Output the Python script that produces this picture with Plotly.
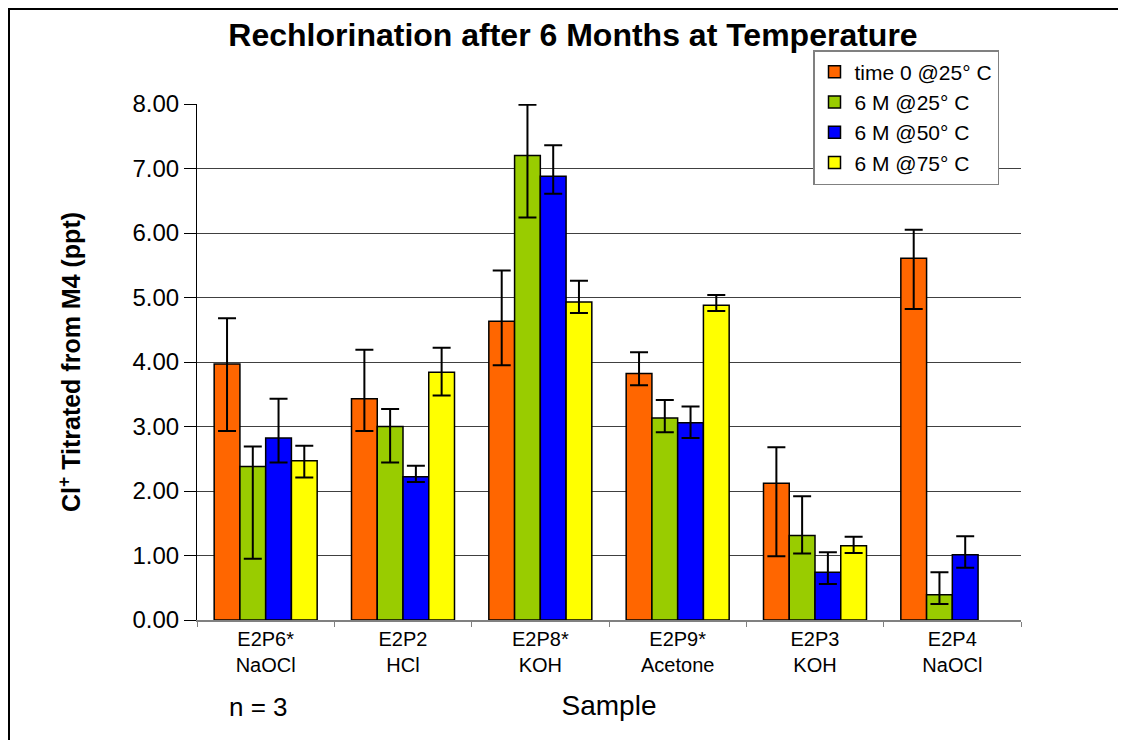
import plotly.graph_objects as go

categories = ["E2P6*<br>NaOCl", "E2P2<br>HCl", "E2P8*<br>KOH", "E2P9*<br>Acetone", "E2P3<br>KOH", "E2P4<br>NaOCl"]
series_names = ["time 0 @25° C", "6 M @25° C", "6 M @50° C", "6 M @75° C"]
series_colors = ["#FF6600", "#99CC00", "#0000FF", "#FFFF00"]

time0_25 = [3.97, 3.43, 4.63, 3.82, 2.12, 5.61]
m6_25 = [2.38, 3.00, 7.20, 3.13, 1.31, 0.39]
m6_50 = [2.82, 2.22, 6.88, 3.06, 0.74, 1.01]
m6_75 = [2.47, 3.84, 4.93, 4.88, 1.15, None]

# error bar upper / lower bounds
time0_25_hi = [4.68, 4.19, 5.42, 4.15, 2.68, 6.05]
time0_25_lo = [2.93, 2.93, 3.95, 3.64, 0.99, 4.82]
m6_25_hi = [2.69, 3.27, 7.99, 3.41, 1.92, 0.74]
m6_25_lo = [0.95, 2.44, 6.24, 2.91, 1.03, 0.25]
m6_50_hi = [3.43, 2.39, 7.36, 3.31, 1.05, 1.30]
m6_50_lo = [2.44, 2.14, 6.61, 2.82, 0.56, 0.81]
m6_75_hi = [2.70, 4.22, 5.26, 5.04, 1.29, None]
m6_75_lo = [2.21, 3.48, 4.76, 4.79, 1.04, None]

y_ticks = [0, 1, 2, 3, 4, 5, 6, 7, 8]

series = [
    (time0_25, time0_25_hi, time0_25_lo),
    (m6_25, m6_25_hi, m6_25_lo),
    (m6_50, m6_50_hi, m6_50_lo),
    (m6_75, m6_75_hi, m6_75_lo),
]

fig = go.Figure()
for name, color, (vals, hi, lo) in zip(series_names, series_colors, series):
    plus = [None if v is None else h - v for v, h in zip(vals, hi)]
    minus = [None if v is None else v - l for v, l in zip(vals, lo)]
    fig.add_trace(go.Bar(
        name=name, x=categories, y=vals,
        marker=dict(color=color, line=dict(color="black", width=1.5)),
        error_y=dict(type="data", symmetric=False, array=plus, arrayminus=minus,
                     color="black", thickness=2, width=9),
    ))

# page body has an 8px margin: work in screen pixels, convert to figure pixels
OFF = 8
W, H = 1126 - OFF, 740 - OFF
SL, SR, ST, SB = 197, 1021, 104, 620  # plot area on screen
L, T = SL - OFF, ST - OFF
R = W - (SR - OFF)
B = H - (SB - OFF)
pw, ph = SR - SL, SB - ST

def px_x(x):
    return (x - SL) / pw

def px_y(y):
    return (SB - y) / ph

fig.update_layout(
    width=W, height=H,
    margin=dict(l=L, r=R, t=T, b=B),
    paper_bgcolor="white", plot_bgcolor="white",
    barmode="group", bargap=0.25, bargroupgap=0,
    font=dict(family="Liberation Sans, Arial, sans-serif", color="black"),
    title=dict(text="<b>Rechlorination after 6 Months at Temperature</b>",
               font=dict(size=32, family="Liberation Sans, Arial, sans-serif", color="black"),
               x=px_x(573), xref="paper", xanchor="center",
               y=1 - (35 - OFF) / H, yref="container", yanchor="middle"),
    legend=dict(x=px_x(813), y=px_y(50), xanchor="left", yanchor="top",
                bgcolor="white", bordercolor="#808080", borderwidth=1.5,
                font=dict(size=21), traceorder="normal",
                itemwidth=30, tracegroupgap=0),
    showlegend=True,
)

fig.update_yaxes(
    range=[0, 8], tickvals=y_ticks, tickformat=".2f",
    showgrid=True, gridcolor="#404040", gridwidth=1,
    showline=True, linecolor="black", linewidth=1,
    ticks="outside", ticklen=12, tickcolor="black",
    tickfont=dict(size=24),
    zeroline=False,
    title=dict(text="<b>Cl<sup>+</sup> Titrated from M4 (ppt)</b>", font=dict(size=25), standoff=44),
)
fig.update_xaxes(
    showline=True, linecolor="#808080", linewidth=2,
    ticks="outside", ticklen=5, tickcolor="#808080", tickson="boundaries",
    tickfont=dict(size=20),
    title=dict(text="Sample", font=dict(size=28), standoff=20),
)

fig.add_annotation(text="n = 3", x=px_x(258), y=px_y(707), xref="paper", yref="paper",
                   showarrow=False, font=dict(size=26), xanchor="center", yanchor="middle")

fig.add_shape(type="rect", xref="paper", yref="paper",
              x0=px_x(9), x1=px_x(1121), y0=px_y(745), y1=px_y(9),
              line=dict(color="black", width=2), fillcolor="rgba(0,0,0,0)", layer="below")

fig.write_html("out.html")
